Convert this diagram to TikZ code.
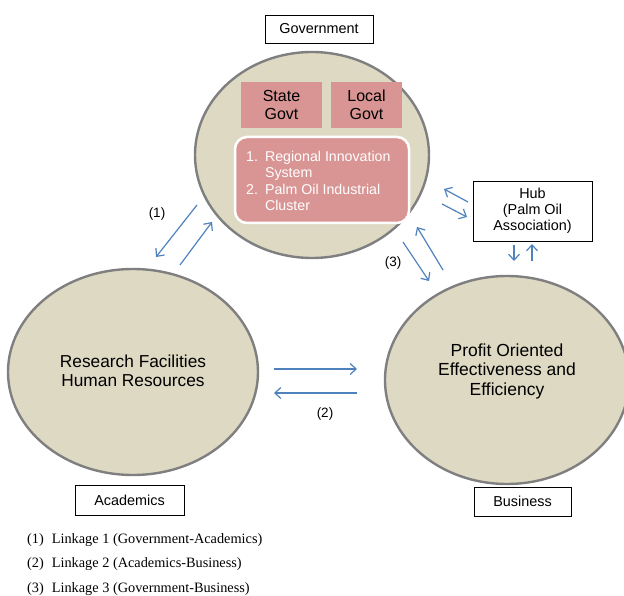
\documentclass[tikz,border=0pt]{standalone}
\usepackage{fontspec}
\setmainfont{Liberation Sans}
\newfontfamily\legendfont{Liberation Serif}
\usetikzlibrary{arrows.meta}
\definecolor{ellfill}{HTML}{DDD9C3}
\definecolor{ellline}{HTML}{7F7F7F}
\definecolor{pinkbox}{HTML}{D99594}
\definecolor{linkblue}{HTML}{4F81BD}
\begin{document}
\begin{tikzpicture}[x=1pt,y=-1pt,
  sphere/.style={draw=ellline,line width=2.4pt,fill=ellfill},
  labelbox/.style={draw=black,line width=0.7pt,fill=white,font=\fontsize{14.4}{16}\selectfont,align=center,inner sep=0pt},
  govtbox/.style={fill=pinkbox,font=\fontsize{16}{18}\selectfont,align=center,inner sep=0pt,minimum width=81pt,minimum height=46pt},
  link/.style={draw=linkblue,line width=1.2pt,-{Straight Barb[length=6pt,width=11pt,line width=1.2pt]}},
  tag/.style={font=\fontsize{13.5}{15}\selectfont},
  legend/.style={font=\legendfont\fontsize{14.3}{16}\selectfont,anchor=west,inner sep=0pt}]
\useasboundingbox (0,0) rectangle (624,596);

% the three spheres
\path[sphere] (312,155) ellipse [x radius=117,y radius=103];
\path[sphere] (133,372) ellipse [x radius=125,y radius=103];
\path[sphere] (507,380) ellipse [x radius=122,y radius=104];
\node[font=\fontsize{17.3}{18.5}\selectfont,align=center] (acadtext) at (133,371) {Research Facilities\\Human Resources};
\node[font=\fontsize{17.5}{19.5}\selectfont,align=center] (bustext) at (507,371) {Profit Oriented\\Effectiveness and\\Efficiency};

% government content
\node[govtbox] (state) at (281.5,105) {State\\Govt};
\node[govtbox,minimum width=71pt] (local) at (366.5,105) {Local\\Govt};
\node[fill=pinkbox,draw=white,line width=2.5pt,rounded corners=12pt,minimum width=174pt,minimum height=86pt,inner sep=0pt] (ris) at (322,180) {};
\node[anchor=north west,text=white,font=\fontsize{14.2}{16.5}\selectfont,align=left,inner sep=0pt] (list) at (246,151)
  {1.\hspace{7pt}Regional Innovation\\\hphantom{1.\hspace{7pt}}System\\2.\hspace{7pt}Palm Oil Industrial\\\hphantom{2.\hspace{7pt}}Cluster};

% labels
\node[labelbox,minimum width=108pt,minimum height=28pt] (government) at (319,29) {Government};
\node[labelbox,minimum width=109pt,minimum height=30pt] (academics) at (129.5,500) {Academics};
\node[labelbox,minimum width=97pt,minimum height=29pt] (business) at (522.5,501.5) {Business};
\node[labelbox,minimum width=119pt,minimum height=60pt] (hub) at (532.5,211) {Hub\\(Palm Oil\\Association)};

% linkage arrows
\coordinate (a1s) at (197,205); \coordinate (a1e) at (156,257);
\coordinate (a2s) at (180,265); \coordinate (a2e) at (212,222);
\draw[link] (a1s) -- (a1e);
\draw[link] (a2s) -- (a2e);
\node[tag] (l1) at (157,214) {(1)};

\coordinate (b1s) at (274,369); \coordinate (b1e) at (357,369);
\coordinate (b2s) at (357,393); \coordinate (b2e) at (274,393);
\draw[link] (b1s) -- (b1e);
\draw[link] (b2s) -- (b2e);
\node[tag] (l2) at (325,414) {(2)};

\coordinate (c1s) at (403,242); \coordinate (c1e) at (429,281);
\coordinate (c2s) at (443,270); \coordinate (c2e) at (417,227);
\draw[link] (c1s) -- (c1e);
\draw[link] (c2s) -- (c2e);
\node[tag] (l3) at (393,263) {(3)};

\coordinate (h1s) at (468,202); \coordinate (h1e) at (444,189);
\coordinate (h2s) at (442,204); \coordinate (h2e) at (467,217);
\coordinate (h3s) at (514,245); \coordinate (h3e) at (514,261);
\coordinate (h4s) at (532,261); \coordinate (h4e) at (532,244);
\draw[link] (h1s) -- (h1e);
\draw[link] (h2s) -- (h2e);
\draw[link] (h3s) -- (h3e);
\draw[link] (h4s) -- (h4e);

% legend
\node[legend] (leg1) at (27,540) {(1)\hspace{8pt}Linkage 1 (Government-Academics)};
\node[legend] (leg2) at (27,564) {(2)\hspace{8pt}Linkage 2 (Academics-Business)};
\node[legend] (leg3) at (27,589) {(3)\hspace{8pt}Linkage 3 (Government-Business)};
\end{tikzpicture}
\end{document}
